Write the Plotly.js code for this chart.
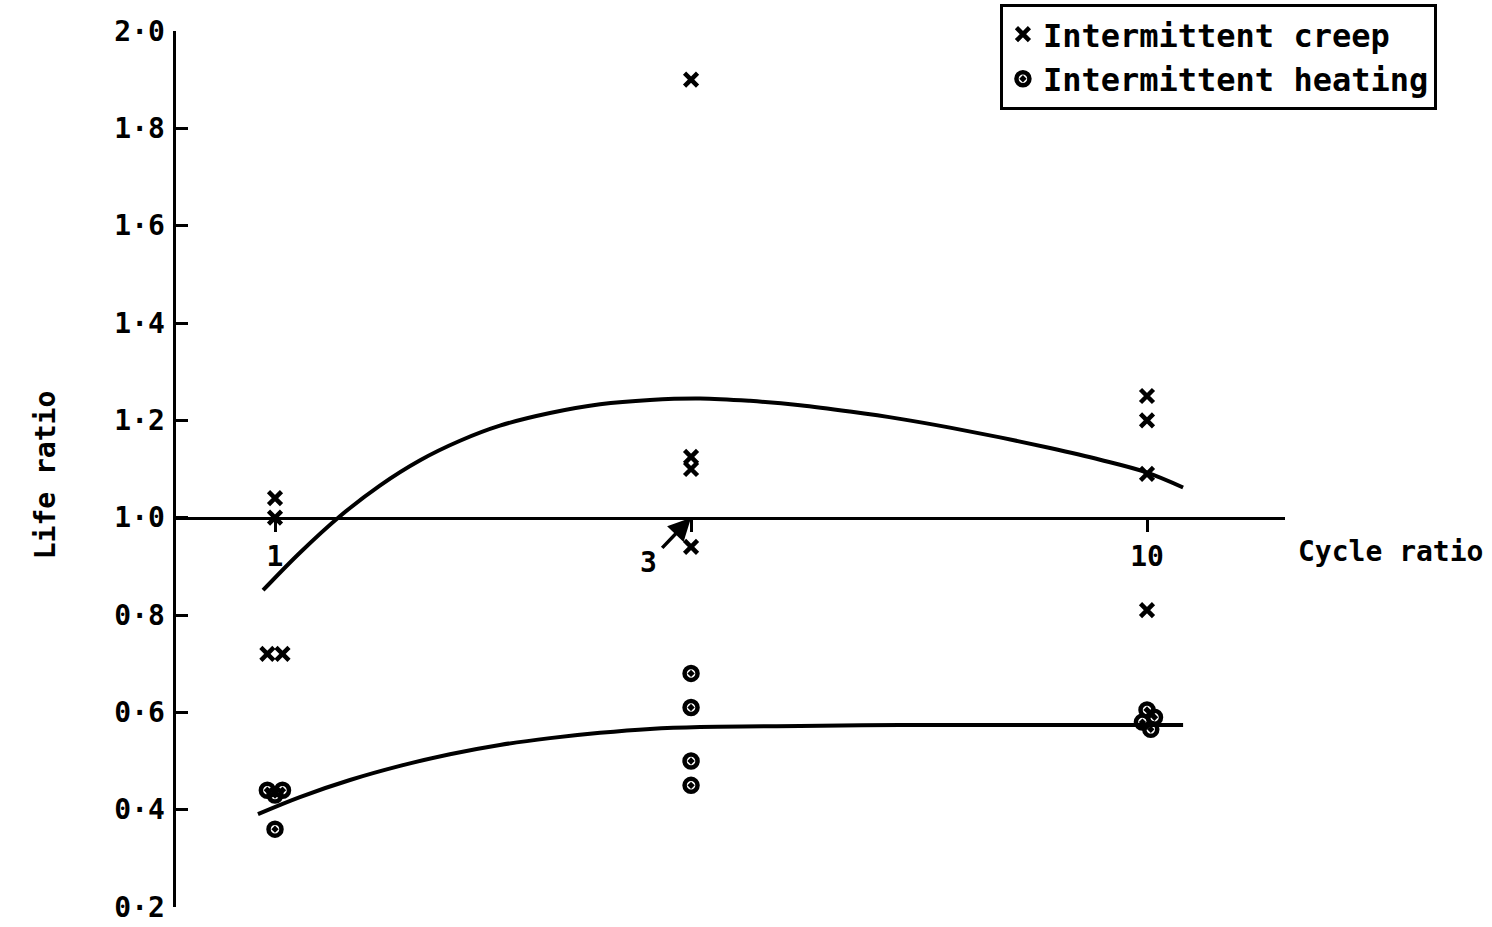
<!DOCTYPE html>
<html>
<head>
<meta charset="utf-8">
<script src="https://cdn.plot.ly/plotly-3.0.1.min.js"></script>
<style>
  html, body { margin: 0; padding: 0; background: #ffffff; }
  #chart { width: 1492px; height: 927px; }
</style>
</head>
<body>
<div id="chart"></div>
<script>
// Intermittent creep results (cycle ratio, life ratio)
const creepCycle = [0.98, 1.02, 1.00, 1.00, 3, 3, 3, 3, 10, 10, 10, 10];
const creepLife  = [0.72, 0.72, 1.04, 1.00, 1.90, 1.125, 1.10, 0.94, 1.25, 1.20, 1.09, 0.81];

// Intermittent heating results
const heatCycle = [0.98, 1.02, 1.00, 1.00, 3, 3, 3, 3, 10.0, 10.2, 9.88, 10.1];
const heatLife  = [0.44, 0.44, 0.43, 0.36, 0.68, 0.61, 0.50, 0.45, 0.605, 0.59, 0.58, 0.565];

// Smoothed trend through the creep results
const creepFitCycle = [0.969, 1.068, 1.187, 1.319, 1.467, 1.630, 1.811, 2.067, 2.359, 2.692, 3.072,
                       3.505, 4.000, 4.564, 5.209, 5.944, 6.783, 7.741, 8.834, 9.947, 11.0];
const creepFitLife  = [0.851, 0.928, 1.003, 1.066, 1.118, 1.158, 1.189, 1.215, 1.233, 1.242, 1.245,
                       1.240, 1.231, 1.218, 1.203, 1.185, 1.165, 1.143, 1.119, 1.094, 1.062];

// Smoothed trend through the heating results
const heatFitCycle = [0.956, 1.068, 1.219, 1.391, 1.587, 1.811, 2.067, 2.359, 2.692, 3.072,
                      4.000, 5.209, 6.783, 8.834, 11.0];
const heatFitLife  = [0.391, 0.426, 0.461, 0.490, 0.514, 0.533, 0.547, 0.558, 0.566, 0.570,
                      0.572, 0.574, 0.574, 0.574, 0.574];

// Axis ticks
const lifeTicks = [0.2, 0.4, 0.6, 0.8, 1.0, 1.2, 1.4, 1.6, 1.8, 2.0];
const lifeTickText = ['0·2', '0·4', '0·6', '0·8', '1·0', '1·2', '1·4', '1·6', '1·8', '2·0'];
const cycleTicks = [1, 3, 10];
const cycleTickText = ['1', '', '10'];

const FONT = 'DejaVu Sans Mono, Liberation Mono, monospace';
const INK = '#000000';

const traces = [
  {
    x: creepFitCycle, y: creepFitLife, type: 'scatter', mode: 'lines',
    line: { color: INK, width: 4, shape: 'spline', smoothing: 1 },
    showlegend: false, hoverinfo: 'skip'
  },
  {
    x: heatFitCycle, y: heatFitLife, type: 'scatter', mode: 'lines',
    line: { color: INK, width: 4, shape: 'spline', smoothing: 1 },
    showlegend: false, hoverinfo: 'skip'
  },
  {
    x: creepCycle, y: creepLife, type: 'scatter', mode: 'markers',
    name: 'Intermittent creep',
    marker: { symbol: 'x-thin', size: 13, color: INK, line: { color: INK, width: 4.5 } }
  },
  {
    x: heatCycle, y: heatLife, type: 'scatter', mode: 'markers',
    name: 'Intermittent heating',
    marker: { symbol: 'circle-open-dot', size: 13, color: INK, line: { color: INK, width: 4.5 } }
  }
];

const yMin = 0.2, yMax = 2.0;

const layout = {
  width: 1492, height: 927,
  paper_bgcolor: '#ffffff', plot_bgcolor: '#ffffff',
  margin: { l: 176, r: 207, t: 31, b: 20, autoexpand: false },
  font: { family: FONT, color: INK, size: 28, weight: 'bold' },
  showlegend: true,
  legend: {
    x: 1.137, xanchor: 'right', y: 1.031, yanchor: 'top',
    bordercolor: INK, borderwidth: 3, bgcolor: '#ffffff',
    font: { family: FONT, size: 32, color: INK, weight: 'bold' }
  },
  xaxis: {
    type: 'log',
    range: [-0.11353, 1.15826],
    anchor: 'free',
    position: (1.0 - yMin) / (yMax - yMin),
    side: 'bottom',
    showline: true, linecolor: INK, linewidth: 3.5,
    ticks: 'outside', ticklen: 12, tickwidth: 3, tickcolor: INK,
    tickmode: 'array', tickvals: cycleTicks, ticktext: cycleTickText,
    tickfont: { family: FONT, size: 28, color: INK, weight: 'bold' },
    showgrid: false, zeroline: false, automargin: false
  },
  yaxis: {
    range: [yMin, yMax],
    showline: true, linecolor: INK, linewidth: 3.5,
    ticks: 'inside', ticklen: 12, tickwidth: 3, tickcolor: INK,
    tickmode: 'array', tickvals: lifeTicks, ticktext: lifeTickText,
    tickfont: { family: FONT, size: 28, color: INK, weight: 'bold' },
    ticklabelstandoff: 2,
    showgrid: false, zeroline: false, automargin: false
  },
  annotations: [
    {
      text: 'Life ratio', textangle: -90,
      xref: 'paper', yref: 'paper', x: -0.118, y: 0.493,
      xanchor: 'center', yanchor: 'middle', showarrow: false,
      font: { family: FONT, size: 28, color: INK, weight: 'bold' }
    },
    {
      text: 'Cycle ratio',
      xref: 'paper', yref: 'y', x: 1.0947, y: 0.93,
      xanchor: 'center', yanchor: 'middle', showarrow: false,
      font: { family: FONT, size: 28, color: INK, weight: 'bold' }
    },
    {
      text: '3',
      xref: 'x', yref: 'y', x: Math.log10(3), y: 1.0,
      ax: -43, ay: 45,
      showarrow: true, arrowhead: 2, arrowsize: 1.3, arrowwidth: 3.5, arrowcolor: INK,
      standoff: 0, startstandoff: 6,
      font: { family: FONT, size: 28, color: INK, weight: 'bold' }
    }
  ]
};

Plotly.newPlot('chart', traces, layout, { displayModeBar: false, staticPlot: true });
</script>
</body>
</html>
